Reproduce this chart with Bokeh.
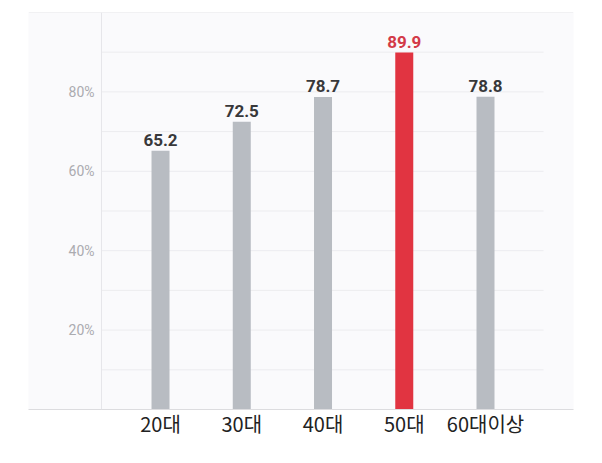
from bokeh.plotting import figure
from bokeh.models import Range1d, FixedTicker, Span, ColumnDataSource
from bokeh.core.properties import value
from bokeh.embed import file_html
from bokeh.resources import INLINE

categories = ["20대", "30대", "40대", "50대", "60대이상"]
values = [65.2, 72.5, 78.7, 89.9, 78.8]
highlight = "50대"
y_tick_values = [20, 40, 60, 80]
y_tick_labels = ["20%", "40%", "60%", "80%"]
grid_values = [10, 20, 30, 40, 50, 60, 70, 80, 90]

GRAY = "#b8bcc2"
RED = "#e13441"
LABEL_DARK = "#38383a"
LABEL_RED = "#d33a48"

xs = list(range(1, len(categories) + 1))
colors = [RED if c == highlight else GRAY for c in categories]
label_colors = [LABEL_RED if c == highlight else LABEL_DARK for c in categories]

p = figure(width=598, height=455, output_backend="svg", toolbar_location=None,
           x_range=Range1d(-0.625, 6.083), y_range=Range1d(0, 100),
           y_axis_location=None)
p.min_border_left = 28
p.min_border_top = 12
p.min_border_right = 25
p.min_border_bottom = 46
p.outline_line_color = None
p.background_fill_color = "#fafafc"
p.border_fill_color = "white"
p.xgrid.visible = False
p.ygrid.visible = False

grid_left = 0.274
grid_right = 5.714

# horizontal grid lines
p.segment(x0=[grid_left] * len(grid_values), x1=[grid_right] * len(grid_values),
          y0=grid_values, y1=grid_values, line_color="#ececef", line_width=1)
p.add_layout(Span(location=100, dimension="width", line_color="#e6e6ea", line_width=1))
p.add_layout(Span(location=grid_left, dimension="height", line_color="#e6e6ea", line_width=1))

src = ColumnDataSource(dict(x=xs, top=values, color=colors,
                            label=[f"{v:.1f}" for v in values], lcolor=label_colors))
p.vbar(x="x", top="top", bottom=0, width=0.2216, fill_color="color",
       line_color=None, source=src)

p.text(x="x", y="top", text="label", text_color="lcolor", source=src,
       text_align="center", text_baseline="bottom", y_offset=-5,
       text_font=value("Roboto"), text_font_style="bold", text_font_size="17px")

p.text(x=[grid_left] * len(y_tick_values), y=y_tick_values, text=y_tick_labels,
       text_align="right", text_baseline="middle", x_offset=-7,
       text_font=value("Roboto"), text_font_size="14px", text_color="#ababb0")

ax = p.xaxis[0]
ax.ticker = FixedTicker(ticks=xs)
ax.major_label_overrides = {x: c for x, c in zip(xs, categories)}
ax.major_tick_line_color = None
ax.minor_tick_line_color = None
ax.axis_line_color = "#dcdcdf"
ax.major_label_text_font = "Noto Sans CJK KR"
ax.major_label_text_font_size = "20px"
ax.major_label_text_color = "#222222"
ax.major_label_standoff = -7

open("out.html", "w").write(file_html(p, INLINE))
